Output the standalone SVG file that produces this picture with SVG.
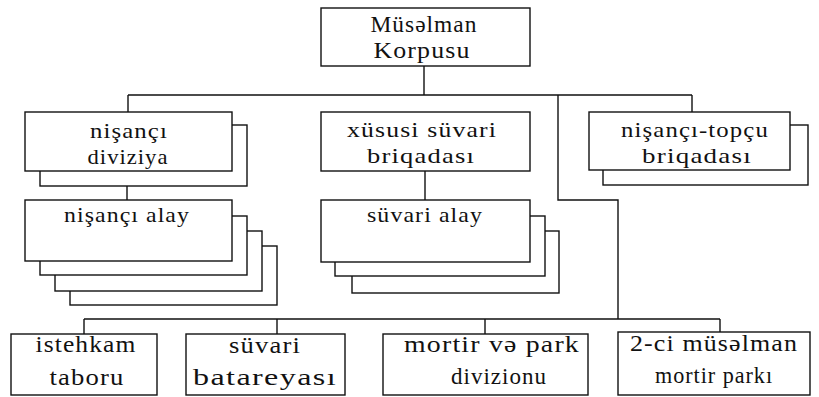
<svg xmlns="http://www.w3.org/2000/svg" width="819" height="397" viewBox="0 0 819 397" font-family="'Liberation Serif', 'DejaVu Serif', serif">
<style>
  rect { fill: #fff; stroke: #111; stroke-width: 1.4; }
  .c { fill: none; stroke: #111; stroke-width: 1.4; }
  text { font-family: "Liberation Serif", "DejaVu Serif", serif; font-size: 22px; fill: #111; text-anchor: middle; letter-spacing: 1px; }
  .b { font-size: 23px; }
</style>
<rect x="0" y="0" width="819" height="397" style="fill:#fff;stroke:none"/>
<g id="connectors">
  <path class="c" d="M424 66 V95 M128 95 H692 M128 95 V112 M692 95 V112 M558 95 V200 H618 V319"/>
  <path class="c" d="M127 186 V200 M425 171 V200"/>
  <path class="c" d="M84 319 H720 M84 319 V334 M277 319 V334 M485 319 V334 M720 319 V332"/>
</g>
<g id="n-top">
  <rect x="321" y="8" width="209" height="58"/>
  <text x="424" y="32" textLength="107" lengthAdjust="spacingAndGlyphs" class="b">Müsəlman</text>
  <text x="422" y="58" textLength="97" lengthAdjust="spacingAndGlyphs" class="b">Korpusu</text>
</g>
<g id="n-diviziya">
  <rect x="40" y="125" width="207" height="61"/>
  <rect x="25" y="112" width="207" height="59"/>
  <text x="129" y="138" textLength="78" lengthAdjust="spacingAndGlyphs">nişançı</text>
  <text x="128" y="164" textLength="81" lengthAdjust="spacingAndGlyphs">diviziya</text>
</g>
<g id="n-nisanci-alay">
  <rect x="70" y="246" width="207" height="59"/>
  <rect x="55" y="231" width="207" height="60"/>
  <rect x="40" y="216" width="207" height="59"/>
  <rect x="25" y="200" width="207" height="61"/>
  <text x="127" y="222" textLength="126" lengthAdjust="spacingAndGlyphs">nişançı alay</text>
</g>
<g id="n-xususi">
  <rect x="321" y="112" width="209" height="59"/>
  <text x="422" y="137" textLength="150" lengthAdjust="spacingAndGlyphs">xüsusi süvari</text>
  <text x="421" y="163" textLength="108" lengthAdjust="spacingAndGlyphs">briqadası</text>
</g>
<g id="n-suvari-alay">
  <rect x="352" y="231" width="207" height="62"/>
  <rect x="335" y="216" width="210" height="60"/>
  <rect x="321" y="200" width="209" height="62"/>
  <text x="425" y="222" textLength="116" lengthAdjust="spacingAndGlyphs">süvari alay</text>
</g>
<g id="n-topcu">
  <rect x="603" y="125" width="205" height="60"/>
  <rect x="589" y="112" width="201" height="58"/>
  <text x="695" y="137" textLength="148" lengthAdjust="spacingAndGlyphs">nişançı-topçu</text>
  <text x="697" y="163" textLength="110" lengthAdjust="spacingAndGlyphs">briqadası</text>
</g>
<g id="n-istehkam">
  <rect x="11" y="334" width="146" height="61"/>
  <text x="86" y="352" textLength="101" lengthAdjust="spacingAndGlyphs" class="b">istehkam</text>
  <text x="87" y="385" textLength="75" lengthAdjust="spacingAndGlyphs" class="b">taboru</text>
</g>
<g id="n-suvari-batareyasi">
  <rect x="186" y="334" width="159" height="61"/>
  <text x="265" y="353" textLength="72" lengthAdjust="spacingAndGlyphs" class="b">süvari</text>
  <text x="265" y="385" textLength="144" lengthAdjust="spacingAndGlyphs" class="b">batareyası</text>
</g>
<g id="n-mortir">
  <rect x="383" y="334" width="205" height="61"/>
  <text x="492" y="352" textLength="176" lengthAdjust="spacingAndGlyphs" class="b">mortir və park</text>
  <text x="499" y="384" textLength="96" lengthAdjust="spacingAndGlyphs" class="b">divizionu</text>
</g>
<g id="n-2ci">
  <rect x="618" y="332" width="192" height="63"/>
  <text x="714" y="351" textLength="168" lengthAdjust="spacingAndGlyphs" class="b">2-ci müsəlman</text>
  <text x="714" y="383" textLength="118" lengthAdjust="spacingAndGlyphs" class="b">mortir parkı</text>
</g>
</svg>
